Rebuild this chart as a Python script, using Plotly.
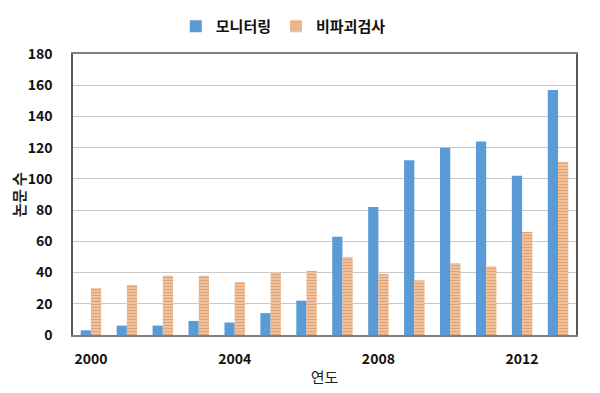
import plotly.graph_objects as go

years = list(range(2000, 2014))
monitoring = [3, 6, 6, 9, 8, 14, 22, 63, 82, 112, 120, 124, 102, 157]
nondestructive = [30, 32, 38, 38, 34, 40, 41, 50, 39, 35, 46, 44, 66, 111]
y_ticks = [0, 20, 40, 60, 80, 100, 120, 140, 160, 180]
x_ticks = [2000, 2004, 2008, 2012]

FONT = "Noto Sans CJK KR"

fig = go.Figure()
fig.add_trace(go.Bar(
    x=years, y=monitoring, name="모니터링",
    marker=dict(color="#5B9BD5", line=dict(width=0)),
))
fig.add_trace(go.Bar(
    x=years, y=nondestructive, name="비파괴검사",
    marker=dict(color="#F6C9A6", line=dict(width=0),
                pattern=dict(shape="-", fgcolor="#C9631C", bgcolor="#FBE0C8",
                             size=3, solidity=0.65)),
))

# page body has an 8px margin; figure is sized so the plot lands where the reference has it
fig.update_layout(
    width=592, height=385,
    margin=dict(l=65, r=24, t=46, b=58, autoexpand=False),
    paper_bgcolor="white", plot_bgcolor="white",
    barmode="group", bargap=0.43, bargroupgap=0,
    font=dict(family=FONT, size=13, color="#222"),
    legend=dict(orientation="h", xref="container", x=0.465, xanchor="center",
                yref="container", y=0.995, yanchor="top",
                font=dict(size=15, family=FONT, weight="bold", color="#111"),
                itemwidth=30, tracegroupgap=0),
    showlegend=True,
)

fig.update_xaxes(
    range=[1999.5, 2013.5], tickmode="array", tickvals=x_ticks,
    ticktext=[str(v) for v in x_ticks],
    tickfont=dict(size=14, family=FONT, weight="bold", color="#111"),
    ticks="", ticklabelstandoff=10, automargin=False,
    showline=True, linecolor="#7F7F7F", linewidth=1.5, mirror=True,
    showgrid=False,
    title=dict(text="연도", font=dict(size=15, family=FONT, color="#222"), standoff=6),
)
fig.update_yaxes(
    range=[0, 180], tickmode="array", tickvals=y_ticks,
    tickfont=dict(size=14, family=FONT, weight="bold", color="#111"),
    ticks="", ticklabelstandoff=16, automargin=False,
    showline=True, linecolor="#595959", linewidth=1.5, mirror=True,
    showgrid=True, gridcolor="#C8C8C8", gridwidth=1,
    zeroline=False,
    title=dict(text="논문 수", font=dict(size=15, family=FONT, weight="bold", color="#222"), standoff=18),
)

fig.write_html("out.html")
